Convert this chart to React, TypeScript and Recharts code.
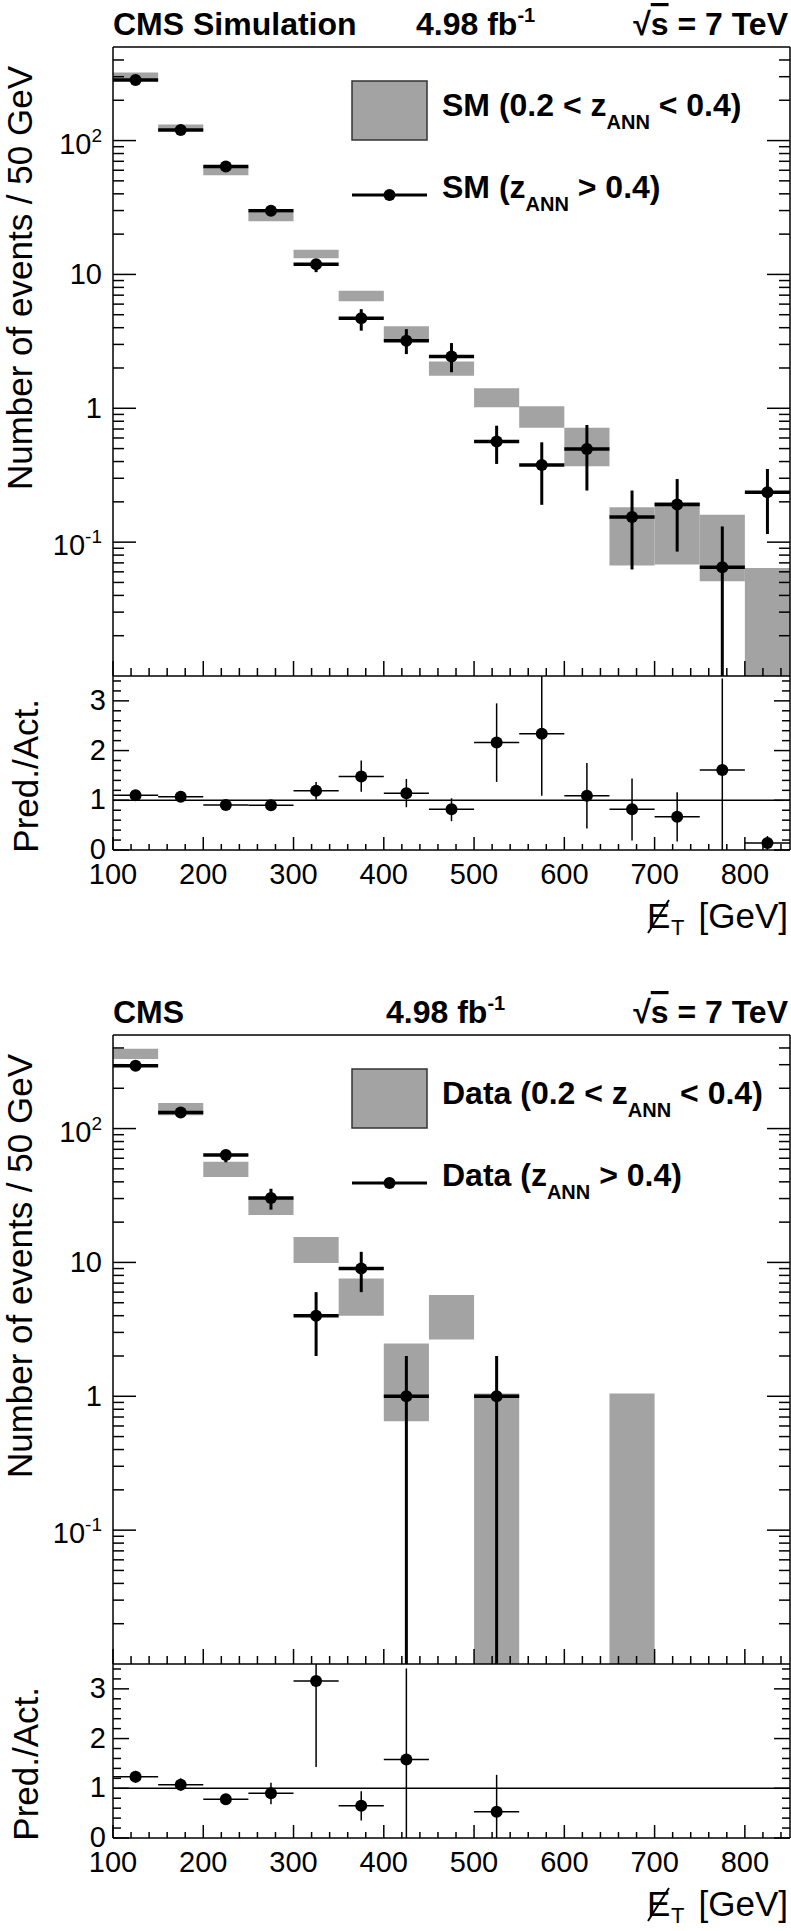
import React from 'react';
import {
  ComposedChart,
  Scatter,
  XAxis,
  YAxis,
  ErrorBar,
  ReferenceArea,
  ReferenceLine,
} from 'recharts';

const FONT = '"Liberation Sans", Arial, Helvetica, sans-serif';
const BAND_FILL = '#a3a3a3';
const FRAME = { stroke: '#000', strokeWidth: 1.5 };

// 50 GeV bins in missing E_T, lower edges
const binLow = [100, 150, 200, 250, 300, 350, 400, 450, 500, 550, 600, 650, 700, 750, 800];
const binWidth = 50;

// upper panel: simulation, 0.2 < z_ANN < 0.4 (grey band edges)
const smBandLow = [279, 118, 55, 25, 13.2, 6.3, 3.14, 1.75, 1.02, 0.716, 0.369, 0.067, 0.068, 0.051, 0];
const smBandHigh = [322, 132, 63, 29, 15.3, 7.55, 4.1, 2.24, 1.41, 1.035, 0.716, 0.182, 0.199, 0.16, 0.064];
// upper panel: simulation, z_ANN > 0.4
const smValue = [283, 120, 64, 29.9, 11.9, 4.7, 3.2, 2.44, 0.564, 0.377, 0.497, 0.154, 0.191, 0.065, 0.236];
const smErrLow = [275, 116, 61.5, 28.5, 10.4, 3.8, 2.54, 1.86, 0.384, 0.19, 0.243, 0.0625, 0.085, 0, 0.115];
const smErrHigh = [291, 124, 66.5, 31.3, 13, 5.5, 3.9, 3.07, 0.741, 0.557, 0.75, 0.243, 0.296, 0.131, 0.352];
const smRatio = [1.1, 1.07, 0.905, 0.9, 1.19, 1.48, 1.14, 0.82, 2.16, 2.34, 1.09, 0.82, 0.67, 1.61, 0.14];
const smRatioLow = [1.05, 1.03, 0.87, 0.86, 1.01, 1.17, 0.86, 0.58, 1.37, 1.09, 0.43, 0.19, 0.17, 0, 0];
const smRatioHigh = [1.15, 1.11, 0.94, 0.94, 1.37, 1.8, 1.43, 1.04, 2.95, 3.6, 1.75, 1.44, 1.16, 3.45, 0.28];

// lower panel: data, 0.2 < z_ANN < 0.4 (grey band edges)
const dataBandLow = [331, 126, 43.4, 22.6, 9.9, 4.0, 0.65, 2.66, 0, null, null, 0, null, null, null];
const dataBandHigh = [394, 155, 56.5, 29.9, 15.5, 7.6, 2.48, 5.7, 1.05, null, null, 1.05, null, null, null];
// lower panel: data, z_ANN > 0.4
const dataValue = [295, 132, 63.4, 30.3, 4, 9, 1, null, 1, null, null, null, null, null, null];
const dataErrLow = [278, 121, 56, 24.8, 2, 6, 0, null, 0, null, null, null, null, null, null];
const dataErrHigh = [312, 143, 68, 35.5, 6, 12, 2, null, 2, null, null, null, null, null, null];
const dataRatio = [1.23, 1.07, 0.78, 0.9, 3.16, 0.65, 1.58, null, 0.53, null, null, null, null, null, null];
const dataRatioLow = [1.11, 0.95, 0.67, 0.68, 1.43, 0.35, 0, null, 0, null, null, null, null, null, null];
const dataRatioHigh = [1.35, 1.2, 0.89, 1.11, 4.9, 0.94, 3.41, null, 1.27, null, null, null, null, null, null];

const MAIN_DOMAIN: [number, number] = [0.01, 500];
const RATIO_DOMAIN: [number, number] = [0, 3.5];

const xTicks = Array.from({ length: 38 }, (_, i) => 100 + 20 * i);
const logTicks: number[] = [];
for (let e = -2; e <= 2; e++) {
  for (let m = 1; m <= 9; m++) {
    const v = Number((m * Math.pow(10, e)).toPrecision(2));
    if (v > 0.01 && v < 500) logTicks.push(v);
  }
}
const ratioTicks = Array.from({ length: 18 }, (_, i) => Math.round(i * 2) / 10);

type Num = number | null;

function pointRows(vals: Num[], lows: Num[], highs: Num[], min: number, max: number) {
  const rows: any[] = [];
  vals.forEach((v, i) => {
    if (v == null) return;
    const lo = Math.max(lows[i] as number, min);
    const hi = Math.min(highs[i] as number, max);
    rows.push({
      x: binLow[i] + binWidth / 2,
      y: v,
      ex: [binWidth / 2, binWidth / 2],
      ey: [v - lo, hi - v],
    });
  });
  return rows;
}

function bandRects(lows: Num[], highs: Num[], min: number, max: number) {
  const rects: any[] = [];
  lows.forEach((lo, i) => {
    if (lo == null || highs[i] == null) return;
    rects.push({
      x1: binLow[i],
      x2: binLow[i] + binWidth,
      y1: Math.max(lo, min),
      y2: Math.min(highs[i] as number, max),
    });
  });
  return rects;
}

const Dot = (p: any) => <circle cx={p.cx} cy={p.cy} r={6} fill="#000" />;

function LogTick(props: any) {
  const { x, y, payload, side } = props;
  const lg = Math.log10(payload.value);
  const e = Math.round(lg);
  const major = Math.abs(lg - e) < 1e-6;
  const dir = side === 'left' ? 1 : -1;
  let label = null;
  if (side === 'left' && major) {
    if (e === 0 || e === 1) {
      label = (
        <text x={x - 11} y={y + 10} textAnchor="end" fontFamily={FONT} fontSize={29}>
          {e === 0 ? '1' : '10'}
        </text>
      );
    } else {
      label = (
        <text x={x - 11} y={y + 13} textAnchor="end" fontFamily={FONT} fontSize={29}>
          10<tspan dy={-12} fontSize={19}>{String(e)}</tspan>
        </text>
      );
    }
  }
  return (
    <g>
      <line x1={x} y1={y} x2={x + dir * (major ? 23 : 11)} y2={y} stroke="#000" strokeWidth={1.5} />
      {label}
    </g>
  );
}

function RatioTick(props: any) {
  const { x, y, payload, side } = props;
  const v = payload.value;
  const major = Number.isInteger(v);
  const dir = side === 'left' ? 1 : -1;
  return (
    <g>
      <line x1={x} y1={y} x2={x + dir * (major ? 16 : 8)} y2={y} stroke="#000" strokeWidth={1.5} />
      {side === 'left' && major && (
        <text x={x - 7} y={y + 9} textAnchor="end" fontFamily={FONT} fontSize={29}>
          {v}
        </text>
      )}
    </g>
  );
}

function XTick(props: any) {
  const { x, y, payload, dir, big, withLabel } = props;
  const v = payload.value;
  const major = v % 100 === 0;
  const len = major ? (big ? 15 : 13) : big ? 8 : 6;
  return (
    <g>
      <line x1={x} y1={y} x2={x} y2={y + dir * len} stroke="#000" strokeWidth={1.5} />
      {withLabel && major && (
        <text x={x} y={y + 34} textAnchor="middle" fontFamily={FONT} fontSize={29}>
          {v}
        </text>
      )}
    </g>
  );
}

function YTitle({ text, bx, ey }: { text: string; bx: number; ey: number }) {
  return (
    <text
      x={bx}
      y={ey}
      transform={`rotate(-90 ${bx} ${ey})`}
      textAnchor="end"
      fontFamily={FONT}
      fontSize={35}
    >
      {text}
    </text>
  );
}

// missing transverse energy: E with a slash, subscript T, unit
function XTitle() {
  const base = 253;
  return (
    <g fontFamily={FONT} fill="#000">
      <text x={647} y={base} fontSize={35}>E</text>
      <line x1={648} y1={base + 5} x2={669} y2={base - 28} stroke="#000" strokeWidth={2} />
      <text x={671} y={base + 7} fontSize={22}>T</text>
      <text x={788} y={base} fontSize={35} textAnchor="end">[GeV]</text>
    </g>
  );
}

function Header({ name, lumiX, series }: { name: string; lumiX: number; series: string }) {
  return (
    <g fontFamily={FONT} fontWeight="bold" fill="#000">
      <text x={113} y={35} fontSize={32}>{name}</text>
      <text x={lumiX} y={35} fontSize={32}>
        4.98 fb<tspan dy={-13} fontSize={20}>-1</tspan>
      </text>
      <text x={788} y={35} fontSize={32} textAnchor="end">
        √<tspan style={{ textDecoration: 'overline' }}>s</tspan>
        {' = 7 TeV'}
      </text>
      <rect x={352} y={81} width={75} height={59} fill={BAND_FILL} stroke="#333" strokeWidth={1.5} />
      <text x={442} y={116} fontSize={32}>
        {series + ' (0.2 < z'}
        <tspan dy={13} fontSize={20}>ANN</tspan>
        <tspan dy={-13}>{' < 0.4)'}</tspan>
      </text>
      <line x1={352} y1={195} x2={427} y2={195} stroke="#000" strokeWidth={3} />
      <circle cx={389.5} cy={195} r={6} fill="#000" />
      <text x={442} y={198} fontSize={32}>
        {series + ' (z'}
        <tspan dy={13} fontSize={20}>ANN</tspan>
        <tspan dy={-13}>{' > 0.4)'}</tspan>
      </text>
    </g>
  );
}

function MainChart(props: any) {
  const { bands, rows, name, lumiX, series } = props;
  return (
    <ComposedChart width={791} height={677} margin={{ top: 46, right: 0, bottom: 0, left: 0 }}>
      <XAxis
        xAxisId="b"
        type="number"
        dataKey="x"
        domain={[100, 850]}
        allowDataOverflow
        ticks={xTicks}
        interval={0}
        tickSize={0}
        tickMargin={0}
        tickLine={false}
        axisLine={FRAME}
        height={1}
        tick={(p: any) => <XTick {...p} dir={-1} big />}
      />
      <XAxis
        xAxisId="t"
        orientation="top"
        type="number"
        domain={[100, 850]}
        allowDataOverflow
        ticks={xTicks}
        interval={0}
        tickSize={0}
        tickMargin={0}
        tickLine={false}
        axisLine={FRAME}
        height={1}
        tick={(p: any) => <XTick {...p} dir={1} big />}
        label={<Header name={name} lumiX={lumiX} series={series} />}
      />
      <YAxis
        yAxisId="l"
        type="number"
        dataKey="y"
        scale="log"
        domain={MAIN_DOMAIN}
        allowDataOverflow
        ticks={logTicks}
        interval={0}
        tickSize={0}
        tickMargin={0}
        tickLine={false}
        axisLine={FRAME}
        width={113}
        tick={(p: any) => <LogTick {...p} side="left" />}
        label={<YTitle text="Number of events / 50 GeV" bx={32} ey={66} />}
      />
      <YAxis
        yAxisId="r"
        orientation="right"
        type="number"
        scale="log"
        domain={MAIN_DOMAIN}
        allowDataOverflow
        ticks={logTicks}
        interval={0}
        tickSize={0}
        tickMargin={0}
        tickLine={false}
        axisLine={FRAME}
        width={1}
        tick={(p: any) => <LogTick {...p} side="right" />}
      />
      {bands.map((b: any, i: number) => (
        <ReferenceArea
          key={i}
          xAxisId="b"
          yAxisId="l"
          x1={b.x1}
          x2={b.x2}
          y1={b.y1}
          y2={b.y2}
          fill={BAND_FILL}
          fillOpacity={1}
          stroke="none"
          ifOverflow="hidden"
        />
      ))}
      <Scatter xAxisId="b" yAxisId="l" data={rows} dataKey="y" shape={Dot} isAnimationActive={false}>
        <ErrorBar dataKey="ex" direction="x" width={0} stroke="#000" strokeWidth={3.5} isAnimationActive={false} />
        <ErrorBar dataKey="ey" direction="y" width={0} stroke="#000" strokeWidth={3} isAnimationActive={false} />
      </Scatter>
    </ComposedChart>
  );
}

function RatioChart({ rows }: { rows: any[] }) {
  return (
    <ComposedChart width={791} height={268} margin={{ top: 1, right: 0, bottom: 92, left: 0 }}>
      <XAxis
        xAxisId="b"
        type="number"
        dataKey="x"
        domain={[100, 850]}
        allowDataOverflow
        ticks={xTicks}
        interval={0}
        tickSize={0}
        tickMargin={0}
        tickLine={false}
        axisLine={FRAME}
        height={1}
        tick={(p: any) => <XTick {...p} dir={-1} withLabel />}
        label={<XTitle />}
      />
      <YAxis
        yAxisId="l"
        type="number"
        dataKey="y"
        domain={RATIO_DOMAIN}
        allowDataOverflow
        ticks={ratioTicks}
        interval={0}
        tickSize={0}
        tickMargin={0}
        tickLine={false}
        axisLine={FRAME}
        width={113}
        tick={(p: any) => <RatioTick {...p} side="left" />}
        label={<YTitle text="Pred./Act." bx={38} ey={24} />}
      />
      <YAxis
        yAxisId="r"
        orientation="right"
        type="number"
        domain={RATIO_DOMAIN}
        allowDataOverflow
        ticks={ratioTicks}
        interval={0}
        tickSize={0}
        tickMargin={0}
        tickLine={false}
        axisLine={FRAME}
        width={1}
        tick={(p: any) => <RatioTick {...p} side="right" />}
      />
      <ReferenceLine xAxisId="b" yAxisId="l" y={1} stroke="#000" strokeWidth={1.5} />
      <Scatter xAxisId="b" yAxisId="l" data={rows} dataKey="y" shape={Dot} isAnimationActive={false}>
        <ErrorBar dataKey="ex" direction="x" width={0} stroke="#000" strokeWidth={1.5} isAnimationActive={false} />
        <ErrorBar dataKey="ey" direction="y" width={0} stroke="#000" strokeWidth={1.5} isAnimationActive={false} />
      </Scatter>
    </ComposedChart>
  );
}

function Panel(props: any) {
  const { top, name, lumiX, series, bandLow, bandHigh, value, errLow, errHigh, ratio, ratioLow, ratioHigh } = props;
  const bands = bandRects(bandLow, bandHigh, MAIN_DOMAIN[0], MAIN_DOMAIN[1]);
  const rows = pointRows(value, errLow, errHigh, MAIN_DOMAIN[0], MAIN_DOMAIN[1]);
  const rRows = pointRows(ratio, ratioLow, ratioHigh, RATIO_DOMAIN[0], RATIO_DOMAIN[1]);
  return (
    <div style={{ position: 'absolute', left: 0, top, width: 791, height: 943 }}>
      <div style={{ position: 'absolute', left: 0, top: 0 }}>
        <MainChart bands={bands} rows={rows} name={name} lumiX={lumiX} series={series} />
      </div>
      <div style={{ position: 'absolute', left: 0, top: 675 }}>
        <RatioChart rows={rRows} />
      </div>
    </div>
  );
}

export default function App() {
  return (
    <div style={{ position: 'absolute', left: 0, top: 0, width: 791, height: 1931, background: '#fff' }}>
      <Panel
        top={0}
        name="CMS Simulation"
        lumiX={416}
        series="SM"
        bandLow={smBandLow}
        bandHigh={smBandHigh}
        value={smValue}
        errLow={smErrLow}
        errHigh={smErrHigh}
        ratio={smRatio}
        ratioLow={smRatioLow}
        ratioHigh={smRatioHigh}
      />
      <Panel
        top={988}
        name="CMS"
        lumiX={386}
        series="Data"
        bandLow={dataBandLow}
        bandHigh={dataBandHigh}
        value={dataValue}
        errLow={dataErrLow}
        errHigh={dataErrHigh}
        ratio={dataRatio}
        ratioLow={dataRatioLow}
        ratioHigh={dataRatioHigh}
      />
    </div>
  );
}
